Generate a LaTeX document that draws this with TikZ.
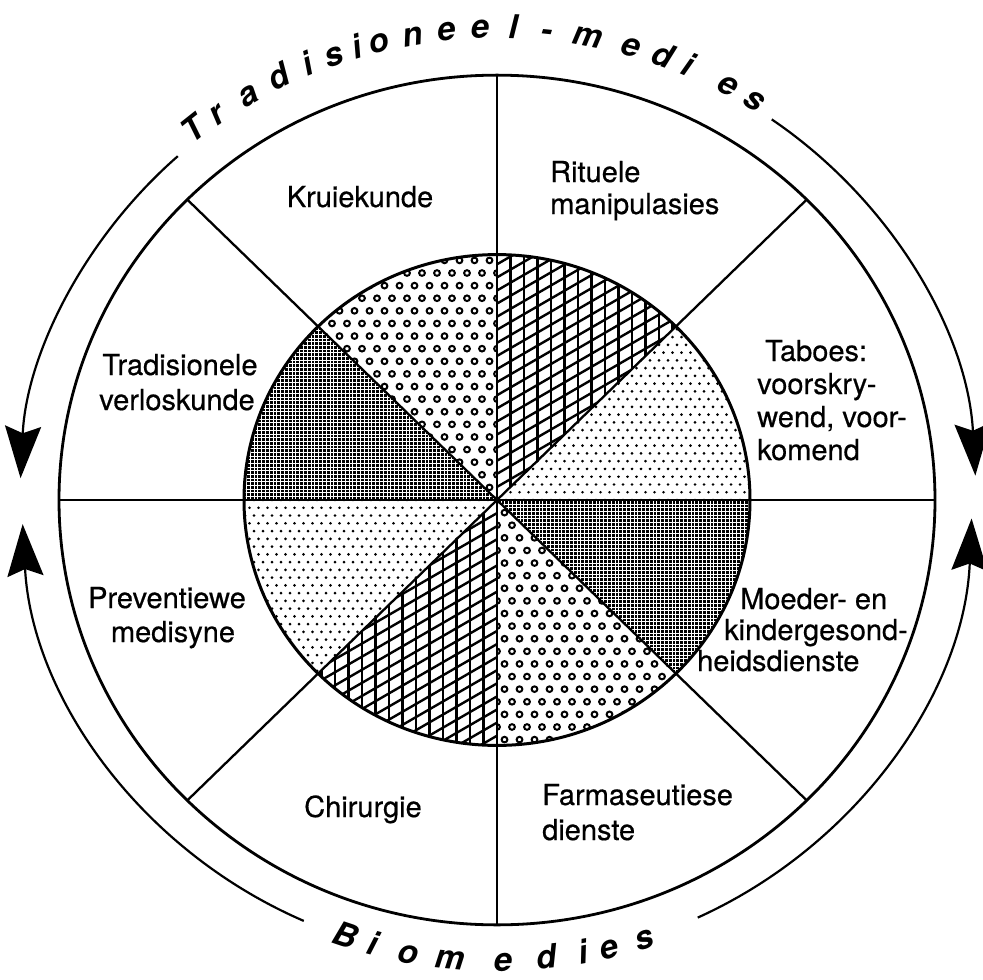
\documentclass[tikz,border=0pt]{standalone}
\usepackage{fontspec}
\setmainfont{TeX Gyre Heros}
\newfontfamily\lblfont[FakeBold=0.5]{TeX Gyre Heros}
\usetikzlibrary{arrows.meta}
\newcommand\latt[7]{%
  \pgfmathtruncatemacro\ljmin{floor((#3)/(#6))}%
  \pgfmathtruncatemacro\ljmax{ceil((#4)/(#6))}%
  \foreach \lj in {\ljmin,...,\ljmax}{%
    \pgfmathsetmacro\lof{abs(mod(\lj,2))*(#5)/2}%
    \pgfmathtruncatemacro\limin{floor(((#1)-\lof)/(#5))}%
    \pgfmathtruncatemacro\limax{ceil(((#2)-\lof)/(#5))}%
    \foreach \li in {\limin,...,\limax}{%
      \pgfmathsetmacro\lpx{\li*(#5)+\lof}%
      \pgfmathsetmacro\lpy{\lj*(#6)}%
      #7%
    }%
  }%
}
\newcommand\darkfill{%
  \fill[black] (-260,-260) rectangle (260,260);
  \foreach \k in {-70,...,70}{%
    \draw[white,line width=0.35pt] (\k*3.8,-260) -- (\k*3.8,260);
    \draw[white,line width=0.3pt] (-260,\k*3.8) -- (260,\k*3.8);
  }%
}
\newcommand\meshfill{%
  \foreach \k in {-20,...,20}{\draw[hatchline] (\k*13.5,-260) -- (\k*13.5,260);}
  \foreach \k in {-32,...,32}{\draw[hatchline] (-260,{\k*13.5-155}) -- (260,{\k*13.5+155});}
}
\begin{document}
\begin{tikzpicture}[x=1pt,y=-1pt,
  lbl/.style={font=\lblfont\fontsize{29}{33}\selectfont, inner sep=0pt},
  arcl/.style={font=\fontsize{33}{40}\selectfont\bfseries\itshape, inner sep=0pt, anchor=base},
  outerring/.style={line width=2.8pt},
  innerring/.style={line width=3pt},
  spoke/.style={line width=2.3pt},
  vspoke/.style={line width=1.9pt},
  hatchline/.style={line width=2.4pt},
  ringdot/.style={line width=2pt},
  flow/.style={line width=2.2pt, -{Stealth[length=52pt,width=36pt,inset=7pt]}}]
\useasboundingbox (0,0) rectangle (983,980);
\begin{scope}[shift={(497,500)}, yscale=-0.97]
  % Kruiekunde: small circles (90-135)
  \begin{scope}
    \clip (0,0) -- (90:253) arc[start angle=90,end angle=135,radius=253] -- cycle;
    \latt{-190}{8}{-8}{260}{15}{13}{\draw[ringdot] (\lpx,\lpy) circle[radius=2.9];}
  \end{scope}
  % Tradisionele verloskunde: dark (135-180)
  \begin{scope}
    \clip (0,0) -- (135:253) arc[start angle=135,end angle=180,radius=253] -- cycle;
    \darkfill
  \end{scope}
  % Rituele manipulasies: mesh (45-90)
  \begin{scope}
    \clip (0,0) -- (45:253) arc[start angle=45,end angle=90,radius=253] -- cycle;
    \meshfill
  \end{scope}
  % Taboes: fine dots (0-45)
  \begin{scope}
    \clip (0,0) -- (0:253) arc[start angle=0,end angle=45,radius=253] -- cycle;
    \latt{-8}{260}{-8}{190}{9}{8}{\fill (\lpx,\lpy) circle[radius=1.5];}
  \end{scope}
  % Moeder- en kindergesondheidsdienste: dark (-45-0)
  \begin{scope}
    \clip (0,0) -- (-45:253) arc[start angle=-45,end angle=0,radius=253] -- cycle;
    \darkfill
  \end{scope}
  % Farmaseutiese dienste: small circles (-90 - -45)
  \begin{scope}
    \clip (0,0) -- (-90:253) arc[start angle=-90,end angle=-45,radius=253] -- cycle;
    \latt{-8}{190}{-260}{8}{15}{13}{\draw[ringdot] (\lpx,\lpy) circle[radius=2.9];}
  \end{scope}
  % Chirurgie: mesh (-135 - -90)
  \begin{scope}
    \clip (0,0) -- (-135:253) arc[start angle=-135,end angle=-90,radius=253] -- cycle;
    \meshfill
  \end{scope}
  % Preventiewe medisyne: fine dots (180-225)
  \begin{scope}
    \clip (0,0) -- (180:253) arc[start angle=180,end angle=225,radius=253] -- cycle;
    \latt{-260}{8}{-190}{8}{9}{8}{\fill (\lpx,\lpy) circle[radius=1.5];}
  \end{scope}
  % rings and spokes
  \coordinate (ctr) at (0,0);
  \foreach \a in {0,45,135,180,225,315}{\draw[spoke] (ctr) -- (\a:438);}
  \foreach \a in {90,270}{\draw[vspoke] (ctr) -- (\a:438);}
  \draw[innerring] (ctr) circle[radius=253];
  \draw[outerring] (ctr) circle[radius=438];
  % arrows
  \draw[flow] (132:477) arc[start angle=132,end angle=177.3,radius=477];
  \draw[flow] (55:479) arc[start angle=55,end angle=3,radius=479];
  \draw[flow] (246:475) arc[start angle=246,end angle=183,radius=475];
  \draw[flow] (-65:475) arc[start angle=-65,end angle=-2.3,radius=475];
  % arc texts
  \foreach \t/\l [count=\i] in {128.5/T,125.2/r,120.8/a,116.6/d,112.9/i,109.6/s,106.7/i,104.1/o,100/n,96/e,92/e,88.1/l,84.1/-,79.2/m,74/e,70.1/d,66.9/i,61.6/e,58/s}{%
    \node[arcl, rotate=\t-90] (top\i) at (\t:476) {\l};
  }
  \foreach \t/\l [count=\i] in {-108.6/B,-105.1/i,-100.7/o,-95.6/m,-89.3/e,-84/d,-79.6/i,-76.4/e,-72/s}{%
    \node[arcl, rotate=\t+90] (bot\i) at (\t:486) {\l};
  }
\end{scope}
% sector labels
\node[lbl, anchor=base] (kru) at (360,207) {Kruiekunde};
\node[lbl, anchor=base west] (rit1) at (550,182) {Rituele};
\node[lbl, anchor=base west] (rit2) at (550,214) {manipulasies};
\node[lbl, anchor=base west] (tab1) at (765,361) {Taboes:};
\node[lbl, anchor=base west] (tab2) at (757,394) {voorskry-};
\node[lbl, anchor=base west] (tab3) at (757,427) {wend, voor-};
\node[lbl, anchor=base west] (tab4) at (757,460) {komend};
\node[lbl, anchor=base] (tra1) at (180,375) {Tradisionele};
\node[lbl, anchor=base] (tra2) at (177,410) {verloskunde};
\node[lbl, anchor=base] (pre1) at (167,608) {Preventiewe};
\node[lbl, anchor=base] (pre2) at (173,642) {medisyne};
\node[lbl, anchor=base west] (moe1) at (740,609) {Moeder- en};
\node[lbl, anchor=base west] (moe2) at (724,640) {kindergesond-};
\node[lbl, anchor=base west] (moe3) at (697,671) {heidsdienste};
\node[lbl, anchor=base] (chi) at (363,817) {Chirurgie};
\node[lbl, anchor=base west] (far1) at (542,805) {Farmaseutiese};
\node[lbl, anchor=base west] (far2) at (542,840) {dienste};
\end{tikzpicture}
\end{document}
